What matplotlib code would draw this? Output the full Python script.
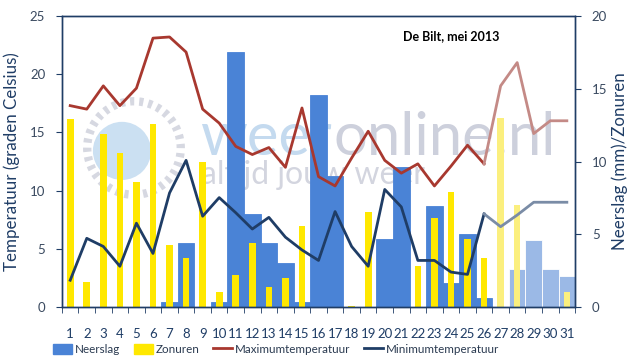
import matplotlib
matplotlib.use('Agg')
import matplotlib.pyplot as plt
import matplotlib.patches as mpatches
from matplotlib.lines import Line2D
import numpy as np

plt.rcParams['font.family'] = ['Lato', 'DejaVu Sans']

# dagen van mei 2013
days = list(range(1, 32))

# maximum- en minimumtemperatuur (graden Celsius)
t_max = [17.3, 17.0, 19.0, 17.3, 18.8, 23.1, 23.2, 21.9, 17.0, 15.8,
         13.8, 13.1, 13.7, 12.0, 17.1, 11.2, 10.4, 12.8, 15.1, 12.6,
         11.5, 12.3, 10.4, 12.1, 13.9, 12.3, 19.0, 21.0, 14.9, 16.0, 16.0]
t_min = [2.3, 5.9, 5.2, 3.5, 7.2, 4.6, 9.8, 12.6, 7.8, 9.4,
         8.1, 6.7, 7.7, 6.0, 4.9, 4.0, 8.2, 5.2, 3.5, 10.1,
         8.6, 4.0, 4.0, 3.0, 2.8, 8.0, 6.9, 7.9, 9.0, 9.0, 9.0]

# neerslag (mm) en zonuren
neerslag = [0, 0, 0, 0, 0, 0, 0.35, 4.4, 0, 0.35,
            17.5, 6.4, 4.4, 3.05, 0.35, 14.6, 9.0, 0, 0, 4.65,
            9.6, 0, 6.95, 1.65, 5.0, 0.65, 0, 2.6, 4.6, 2.6, 2.15]
zonuren = [12.9, 1.7, 11.9, 10.6, 8.6, 12.6, 4.25, 3.4, 9.95, 1.0,
           2.2, 4.4, 1.4, 2.0, 5.6, 0, 0, 0.08, 6.5, 0,
           0, 2.8, 6.1, 7.9, 4.7, 3.4, 13.0, 7.0, 0, 0, 1.0]

# vanaf deze dag is het een verwachting
first_forecast = 27

navy = '#1F3D66'
blue = '#4A83D6'
blue_light = '#9BB9E6'
yellow = '#FFE800'
yellow_light = '#FBEF7E'
red = '#A8382F'
red_light = '#C48A86'
navy_light = '#7A8CA6'

fig = plt.figure(figsize=(6.32, 3.61), dpi=100)
fig.patch.set_facecolor('white')

# watermerk op de achtergrond
w1 = fig.text(0.316, 0.571, 'weer', fontsize=43, color='#C4DAEF', zorder=-5,
              ha='left', va='baseline')
fig.canvas.draw()
x_end = fig.transFigure.inverted().transform(
    w1.get_window_extent(fig.canvas.get_renderer()))[1, 0]
fig.text(x_end + 0.004, 0.571, 'online.nl', fontsize=43, color='#CDD0DC', zorder=-5,
         ha='left', va='baseline')
fig.text(0.318, 0.515, 'altijd jouw weer', fontsize=23, color='#D3D5DF', zorder=-5,
         ha='left', va='center')
logo = mpatches.Ellipse((0.193, 0.582), 0.092, 0.161, transform=fig.transFigure,
                        facecolor='#CBE0F2', edgecolor='none', zorder=-5)
fig.patches.append(logo)
ring = mpatches.Ellipse((0.212, 0.59), 0.148, 0.259, transform=fig.transFigure,
                        facecolor='none', edgecolor='#D6D8E1', linewidth=6,
                        linestyle=(0, (0.5, 0.6)), zorder=-5)
fig.patches.append(ring)

ax = fig.add_axes([0.098, 0.1496, 0.812, 0.806])
ax2 = ax.twinx()
ax.set_zorder(ax2.get_zorder() + 1)
ax.patch.set_visible(False)

x = np.array(days)
is_fc = x >= first_forecast

# neerslag en zonuren op de rechteras
ax2.bar(x, neerslag, width=1.0,
        color=[blue_light if f else blue for f in is_fc],
        edgecolor=['white' if f else blue for f in is_fc], linewidth=0.6)
ax2.bar(x, zonuren, width=0.4,
        color=[yellow_light if f else yellow for f in is_fc], linewidth=0)

# temperatuurlijnen, verwachting in lichtere kleur
k = first_forecast - 2
ax.plot(x[:k + 1], t_max[:k + 1], color=red, linewidth=2)
ax.plot(x[k:], t_max[k:], color=red_light, linewidth=2)
ax.plot(x[:k + 1], t_min[:k + 1], color=navy, linewidth=2)
ax.plot(x[k:], t_min[k:], color=navy_light, linewidth=2)

ax.set_xlim(0.5, 31.5)
ax.set_ylim(0, 25)
ax2.set_ylim(0, 20)
ax.set_yticks(range(0, 26, 5))
ax2.set_yticks(range(0, 21, 5))

ax.set_xticks(days)
ax.set_xticks(np.arange(0.5, 32, 1), minor=True)
ax.tick_params(axis='x', which='major', length=0, pad=15, labelsize=9.5, labelcolor=navy)
ax.tick_params(axis='x', which='minor', length=4, direction='out', color=navy)
ax.tick_params(axis='y', length=4, color=navy, labelsize=9.5, labelcolor='#3A4A60', pad=8)
ax2.tick_params(axis='y', length=4, color=navy, labelsize=9.5, labelcolor='#3A4A60', pad=8)

for a in (ax, ax2):
    for s in a.spines.values():
        s.set_color(navy)
        s.set_linewidth(1.0)

ax.set_ylabel('Temperatuur (graden Celsius)', fontsize=12.2, color=navy, labelpad=7)
ax2.set_ylabel('Neerslag (mm)/Zonuren', fontsize=12.2, color=navy, labelpad=3)

ax.text(0.665, 0.93, 'De Bilt, mei 2013', transform=ax.transAxes, fontsize=9,
        fontweight='bold', ha='left', va='center', color='black')

handles = [mpatches.Patch(color=blue, label='Neerslag'),
           mpatches.Patch(color=yellow, label='Zonuren'),
           Line2D([], [], color=red, linewidth=2, label='Maximumtemperatuur'),
           Line2D([], [], color=navy, linewidth=2, label='Minimumtemperatuur')]
fig.legend(handles=handles, loc='lower center', bbox_to_anchor=(0.437, -0.012),
           ncol=4, frameon=False, fontsize=8.4, handlelength=1.6, handleheight=0.9,
           columnspacing=1.2, handletextpad=0.25, labelcolor='#2A3A50')

plt.savefig('out.png', dpi=100)
plt.close()
